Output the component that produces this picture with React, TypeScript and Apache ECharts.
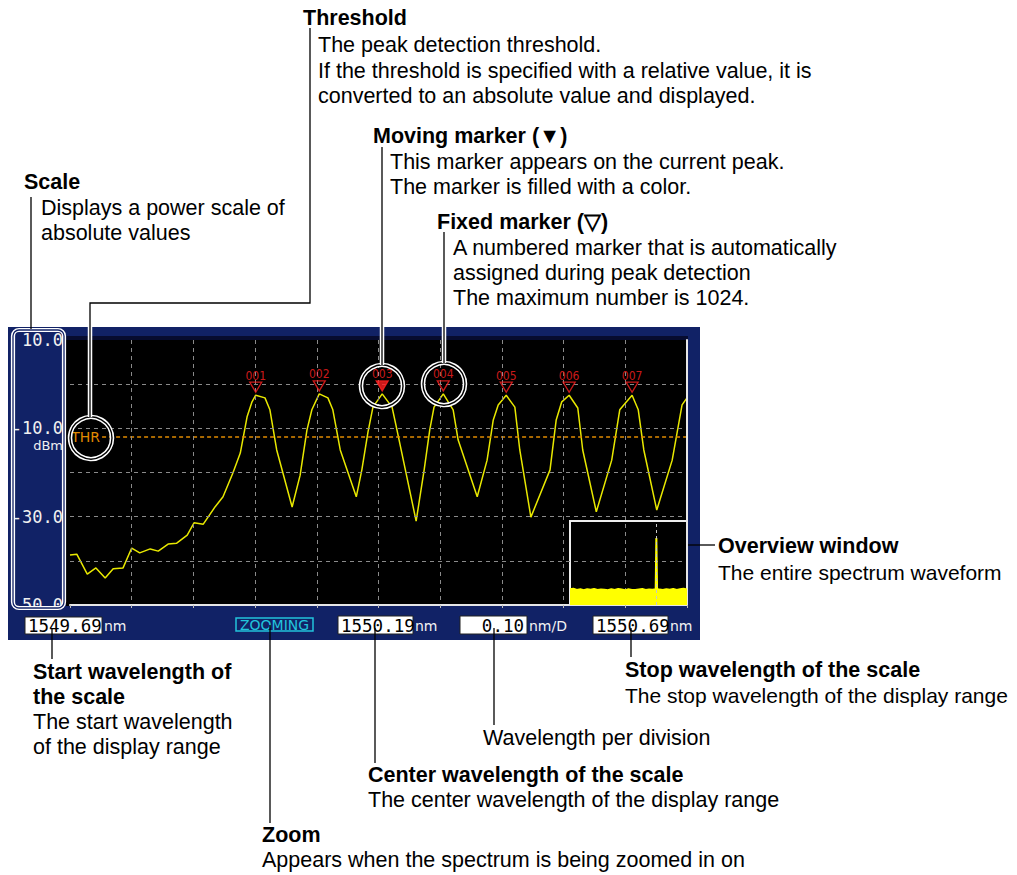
import React, { useEffect, useRef } from 'react';
import * as echarts from 'echarts';

// ---- scale settings ----
const startNm = 1549.69;
const stopNm = 1550.69;
const centerNm = 1550.19;
const nmPerDiv = 0.1;
const levelMax = 10;
const levelMin = -50;
const levelStep = 10;
const thresholdDbm = -12.0;
const thresholdStartNm = 1549.742;

// ---- main trace (zoomed spectrum) ----
const traceNm = [
  1549.690, 1549.701, 1549.718, 1549.732, 1549.747, 1549.760, 1549.776, 1549.790, 1549.803, 1549.820,
  1549.833, 1549.849, 1549.863, 1549.880, 1549.891, 1549.906, 1549.925, 1549.938, 1549.954, 1549.966,
  1549.977, 1549.985, 1549.991, 1550.006, 1550.014, 1550.025, 1550.050, 1550.063, 1550.074, 1550.082,
  1550.094, 1550.108, 1550.116, 1550.128, 1550.154, 1550.163, 1550.173, 1550.181, 1550.196, 1550.212,
  1550.220, 1550.251, 1550.264, 1550.273, 1550.280, 1550.295, 1550.311, 1550.319, 1550.350, 1550.366,
  1550.376, 1550.384, 1550.397, 1550.411, 1550.419, 1550.437, 1550.468, 1550.478, 1550.487, 1550.499,
  1550.513, 1550.521, 1550.543, 1550.568, 1550.581, 1550.593, 1550.601, 1550.611, 1550.620, 1550.641,
  1550.666, 1550.682, 1550.690,
];
const traceDbm = [
  -38.7, -38.5, -43.0, -41.6, -43.9, -41.8, -41.6, -37.1, -38.2, -37.3,
  -37.8, -36.2, -36.0, -34.2, -31.4, -31.7, -27.8, -25.5, -20.1, -15.6,
  -7.4, -4.0, -2.5, -3.1, -5.8, -14.9, -27.8, -20.6, -10.4, -5.8,
  -2.2, -3.1, -5.8, -14.9, -25.5, -19.4, -10.8, -5.2, -2.2, -5.2,
  -10.4, -31.0, -19.4, -10.4, -5.2, -2.2, -5.8, -12.6, -25.5, -17.2,
  -8.1, -4.7, -2.5, -5.2, -14.9, -30.1, -19.4, -8.1, -4.0, -2.5,
  -5.4, -14.9, -28.9, -17.2, -5.8, -3.8, -2.5, -5.8, -14.9, -28.5,
  -17.2, -4.7, -3.1,
];

// ---- peak markers ----
const markerIds = ['001', '002', '003', '004', '005', '006', '007'];
const markerNm = [1549.991, 1550.094, 1550.196, 1550.295, 1550.397, 1550.499, 1550.601];
const markerDbm = [-2.5, -2.2, -2.2, -2.2, -2.5, -2.5, -2.5];
const movingMarkerId = '003';

// ---- overview window (entire spectrum) ----
const overviewMinNm = 1500;
const overviewMaxNm = 1568;
const overviewMinDbm = -80;
const overviewMaxDbm = 10;
const overviewNm = [
  1500, 1502, 1504, 1506, 1508, 1510, 1512, 1514, 1516, 1518, 1520, 1522, 1524, 1526, 1528, 1530,
  1532, 1534, 1536, 1538, 1540, 1542, 1544, 1546, 1548, 1549.8, 1550.19, 1550.6, 1552, 1554, 1556,
  1558, 1560, 1562, 1564, 1566, 1568,
];
const overviewDbm = [
  -63.0, -62.6, -63.8, -63.2, -64.1, -63.0, -63.6, -62.9, -64.0, -63.3, -63.7, -64.2, -63.1, -63.9, -62.8, -63.5,
  -64.3, -63.2, -63.8, -64.0, -63.4, -62.9, -63.9, -63.3, -63.6, -63.0, -8.2, -62.8, -63.5, -64.0, -63.1,
  -63.7, -62.7, -63.9, -63.2, -62.6, -63.4,
];

const NAVY = '#112266';
const RED = '#ff2020';
const ORANGE = '#e08a00';
const ANN_FONT = '"Liberation Sans", Arial, sans-serif';
const MONO = '"DejaVu Sans Mono", monospace';

function ann(text: string, x: number, y: number, bold = false, size?: number) {
  return {
    type: 'text', x, y, z: 80, silent: true,
    style: {
      text, fill: '#000', fontSize: size ?? 21.5, fontWeight: bold ? 'bold' : 'normal',
      fontFamily: ANN_FONT, align: 'left', verticalAlign: 'middle',
    },
  };
}
function pline(points: number[][], z = 82, stroke = '#000', lineWidth = 1.3) {
  return { type: 'polyline', z, silent: true, shape: { points }, style: { stroke, lineWidth, fill: 'none' } };
}
function ring(cx: number, cy: number, r: number) {
  return [
    { type: 'circle', z: 75, silent: true, shape: { cx, cy, r }, style: { fill: 'none', stroke: '#fff', lineWidth: 4.5 } },
    { type: 'circle', z: 76, silent: true, shape: { cx, cy, r }, style: { fill: 'none', stroke: '#000', lineWidth: 1.4 } },
  ];
}
function box(x: number, y: number, w: number, h: number, text: string, alignRight = false) {
  return [
    { type: 'rect', z: 60, silent: true, shape: { x, y, width: w, height: h }, style: { fill: '#fff', stroke: '#222', lineWidth: 1 } },
    {
      type: 'text', z: 61, silent: true, x: alignRight ? x + w - 3 : x + 3, y: y + h / 2 + 0.5,
      style: { text, fill: '#000', fontSize: 17.5, fontFamily: MONO, align: alignRight ? 'right' : 'left', verticalAlign: 'middle' },
    },
  ];
}
function unit(text: string, x: number, y: number) {
  return {
    type: 'text', z: 61, silent: true, x, y,
    style: { text, fill: '#f4f4f4', fontSize: 14, fontFamily: '"DejaVu Sans", sans-serif', align: 'left', verticalAlign: 'middle' },
  };
}

export default function App() {
  const ref = useRef<HTMLDivElement>(null);
  useEffect(() => {
    document.body.style.margin = '0';
    if (!ref.current) return;
    const chart = echarts.init(ref.current, undefined, { renderer: 'svg' });

    const gridLine = { show: true, showMinLine: false, showMaxLine: false, lineStyle: { color: '#8a8a8a', type: [4, 4], width: 1 } };

    const graphic: any[] = [
      // screen frame
      { type: 'rect', z: -10, silent: true, shape: { x: 8, y: 327, width: 692, height: 313 }, style: { fill: NAVY } },
      { type: 'rect', z: -9, silent: true, shape: { x: 66, y: 340, width: 622, height: 266 }, style: { fill: '#000' } },
      { type: 'rect', z: -9, silent: true, shape: { x: 66, y: 336, width: 622, height: 4 }, style: { fill: '#070c30' } },
      // bottom bar (covers lower half of the -50.0 label)
      { type: 'rect', z: 53, silent: true, shape: { x: 8, y: 608, width: 692, height: 32 }, style: { fill: NAVY } },
      // dBm unit on scale
      { type: 'text', z: 54, silent: true, x: 63, y: 445, style: { text: 'dBm', fill: '#f0f0f0', fontSize: 13, fontFamily: '"DejaVu Sans", sans-serif', align: 'right', verticalAlign: 'middle' } },
      // scale highlight (double rounded rect)
      { type: 'rect', z: 70, silent: true, shape: { x: 13, y: 330, width: 51, height: 278, r: 6 }, style: { fill: 'none', stroke: '#fff', lineWidth: 4.2 } },
      { type: 'rect', z: 71, silent: true, shape: { x: 13, y: 330, width: 51, height: 278, r: 6 }, style: { fill: 'none', stroke: NAVY, lineWidth: 1.3 } },
      // bottom bar readouts
      ...box(25, 617, 77, 17, startNm.toFixed(2)),
      unit('nm', 104, 626),
      { type: 'rect', z: 60, silent: true, shape: { x: 236, y: 618, width: 77, height: 13 }, style: { fill: 'none', stroke: '#22c4dc', lineWidth: 1.5 } },
      { type: 'text', z: 61, silent: true, x: 274.5, y: 625, style: { text: 'ZOOMING', fill: '#22c4dc', fontSize: 14, fontFamily: '"DejaVu Sans", sans-serif', align: 'center', verticalAlign: 'middle' } },
      ...box(338, 616, 75, 18, centerNm.toFixed(2)),
      unit('nm', 415, 626),
      ...box(460, 616, 67, 18, nmPerDiv.toFixed(2), true),
      unit('nm/D', 529, 626),
      ...box(593, 616, 75, 18, stopNm.toFixed(2)),
      unit('nm', 670, 626),
      // highlight rings
      ...ring(91, 438, 21),
      ...ring(382, 386, 21),
      ...ring(444, 384, 21),
      // white outlines of leader lines inside the screen
      pline([[90, 327], [90, 417]], 77, '#fff', 4.5),
      pline([[382, 327], [382, 365]], 77, '#fff', 4.5),
      pline([[444, 327], [444, 363]], 77, '#fff', 4.5),
      // leader lines
      pline([[310, 28], [310, 303], [90, 303], [90, 417]]),
      pline([[382, 147], [382, 365]]),
      pline([[444, 232], [444, 363]]),
      pline([[31, 197], [31, 329]]),
      pline([[688, 545], [715, 545]]),
      pline([[52, 628], [52, 659]]),
      pline([[270, 625], [270, 823]]),
      pline([[375, 628], [375, 763]]),
      pline([[494, 628], [494, 725]]),
      pline([[631, 628], [631, 657]]),
      // annotations
      ann('Threshold', 303, 18, true),
      ann('The peak detection threshold.', 318, 45),
      ann('If the threshold is specified with a relative value, it is', 318, 71),
      ann('converted to an absolute value and displayed.', 318, 96),
      ann('Moving marker (\u25BC)', 373, 136, true),
      ann('This marker appears on the current peak.', 390, 162),
      ann('The marker is filled with a color.', 390, 187),
      ann('Fixed marker (\u25BD)', 437, 222, true),
      ann('A numbered marker that is automatically', 453, 248),
      ann('assigned during peak detection', 453, 273),
      ann('The maximum number is 1024.', 453, 298),
      ann('Scale', 24, 182, true),
      ann('Displays a power scale of', 41, 208),
      ann('absolute values', 41, 233),
      ann('Overview window', 718, 546, true),
      ann('The entire spectrum waveform', 718, 572, false, 21),
      ann('Start wavelength of', 33, 672, true),
      ann('the scale', 33, 697, true),
      ann('The start wavelength', 33, 722),
      ann('of the display range', 33, 747),
      ann('Stop wavelength of the scale', 625, 670, true),
      ann('The stop wavelength of the display range', 625, 695, false, 21),
      ann('Wavelength per division', 483, 738),
      ann('Center wavelength of the scale', 368, 775, true),
      ann('The center wavelength of the display range', 368, 800),
      ann('Zoom', 262, 835, true),
      ann('Appears when the spectrum is being zoomed in on', 262, 860),
    ];

    chart.setOption({
      animation: false,
      backgroundColor: '#fff',
      grid: [
        { left: 70, right: 330, top: 340, bottom: 270, show: false },
        { left: 570, top: 521, width: 117, height: 84, show: true, z: 50, backgroundColor: '#000', borderColor: '#eeeeee', borderWidth: 2 },
      ],
      xAxis: [
        {
          gridIndex: 0, type: 'value', min: startNm, max: stopNm, interval: nmPerDiv, z: 52,
          axisLabel: { show: false },
          axisLine: { show: true, onZero: false, lineStyle: { color: '#e6e6e6', width: 2 } },
          axisTick: { show: true, length: 3, lineStyle: { color: '#bbbbbb' } },
          splitLine: gridLine,
        },
        { gridIndex: 1, type: 'value', min: overviewMinNm, max: overviewMaxNm, show: false },
      ],
      yAxis: [
        {
          gridIndex: 0, type: 'value', min: levelMin, max: levelMax, interval: levelStep, z: 52,
          axisLine: { show: false, onZero: false }, axisTick: { show: false },
          axisLabel: {
            color: '#f0f0f0', fontFamily: MONO, fontSize: 17, margin: 7,
            formatter: (v: number) => ((v - levelMax) % (2 * levelStep) === 0 ? v.toFixed(1) : ''),
          },
          splitLine: gridLine,
        },
        {
          gridIndex: 0, type: 'value', position: 'right', min: levelMin, max: levelMax, z: 52,
          axisLine: { show: true, onZero: false, lineStyle: { color: '#e6e6e6', width: 2 } },
          axisTick: { show: false }, axisLabel: { show: false }, splitLine: { show: false },
        },
        { gridIndex: 1, type: 'value', min: overviewMinDbm, max: overviewMaxDbm, show: false },
      ],
      series: [
        {
          type: 'line', xAxisIndex: 0, yAxisIndex: 0, z: 2, showSymbol: false,
          data: traceNm.map((v, i) => [v, traceDbm[i]]),
          lineStyle: { color: '#e8e800', width: 1.5 },
          markLine: {
            silent: true, symbol: 'none', z: 5,
            lineStyle: { color: ORANGE, type: [4, 3], width: 1.5 },
            label: { show: true, position: 'start', formatter: 'THR', color: ORANGE, fontSize: 14, fontFamily: '"DejaVu Sans", sans-serif', distance: 2 },
            data: [[{ coord: [thresholdStartNm, thresholdDbm] }, { coord: [stopNm, thresholdDbm] }]],
          },
        },
        {
          type: 'scatter', xAxisIndex: 0, yAxisIndex: 0, z: 60,
          symbol: 'path://M0 0L10 0L5 9Z', symbolSize: [12, 10], symbolOffset: [0, -8],
          itemStyle: { color: 'rgba(0,0,0,0)', borderColor: RED, borderWidth: 1.3 },
          label: {
            show: true, position: 'top', distance: 0, formatter: '{b}', color: RED, fontSize: 12,
            fontFamily: '"DejaVu Sans Condensed", "Liberation Sans Narrow", sans-serif',
          },
          data: markerIds.map((id, i) => ({
            name: id, value: [markerNm[i], markerDbm[i]],
            itemStyle: id === movingMarkerId ? { color: RED, borderColor: RED } : undefined,
          })),
        },
        {
          type: 'line', xAxisIndex: 1, yAxisIndex: 2, z: 60, showSymbol: false,
          data: overviewNm.map((v, i) => [v, overviewDbm[i]]),
          lineStyle: { color: '#ffff00', width: 2 },
          areaStyle: { color: '#ffff00', opacity: 1, origin: 'start' },
          markLine: {
            silent: true, symbol: 'none', z: 65,
            label: { show: false },
            lineStyle: { color: '#c8c8c8', type: [3, 3], width: 1 },
            data: [{ xAxis: centerNm }],
          },
        },
      ],
      graphic,
    });
    return () => chart.dispose();
  }, []);
  return <div ref={ref} style={{ width: 1017, height: 875 }} />;
}
